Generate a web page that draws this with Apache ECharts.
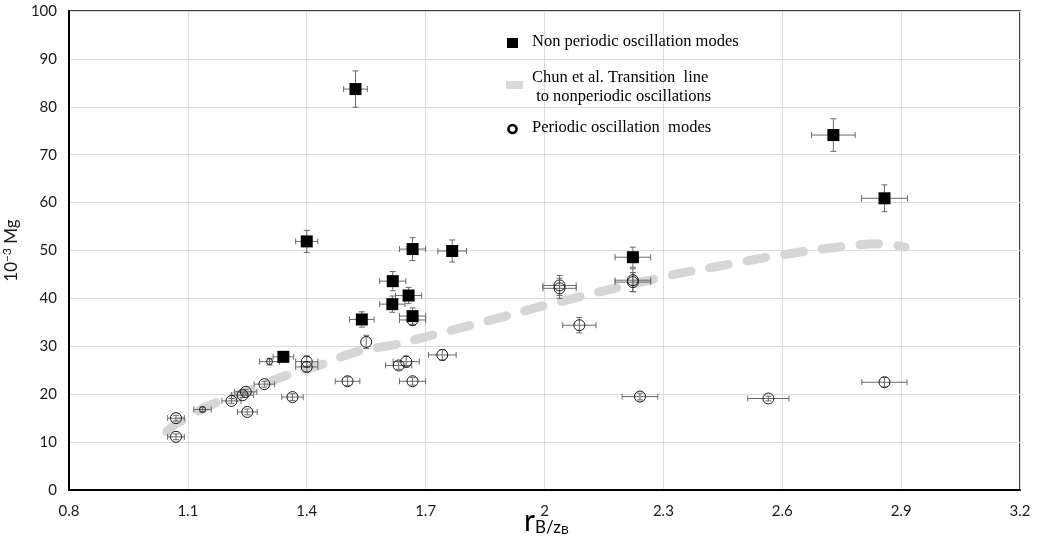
<!DOCTYPE html>
<html>
<head>
<meta charset="utf-8">
<script src="https://cdn.jsdelivr.net/npm/echarts@6/dist/echarts.min.js"></script>
<style>
  html, body { margin: 0; padding: 0; background: #fff; }
  #chart { width: 1037px; height: 542px; }
</style>
</head>
<body>
<div id="chart"></div>
<script>
// non periodic oscillation modes (filled squares)
const npX    = [1.523, 1.400, 1.667, 1.767, 1.617, 1.657, 1.616, 1.667, 1.539, 1.341, 2.223, 2.729, 2.858]
const npY    = [83.7, 51.9, 50.3, 49.9, 43.6, 40.6, 38.8, 36.3, 35.6, 27.8, 48.6, 74.1, 60.9]
const npXErr = [0.030, 0.028, 0.033, 0.036, 0.033, 0.033, 0.032, 0.033, 0.031, 0.026, 0.045, 0.055, 0.058]
const npYErr = [3.8, 2.3, 2.4, 2.3, 2.0, 1.7, 1.7, 1.7, 1.6, 1.0, 2.1, 3.4, 2.8]

// periodic oscillation modes (open circles)
const pX    = [1.070, 1.070, 1.137, 1.210, 1.238, 1.246, 1.250, 1.293, 1.306, 1.400, 1.400, 1.364, 1.503, 1.550,
               1.632, 1.651, 1.667, 1.667, 1.742, 2.038, 2.038, 2.088, 2.223, 2.223, 2.241, 2.565, 2.858]
const pY    = [15.0, 11.1, 16.8, 18.6, 19.8, 20.5, 16.3, 22.1, 26.8, 26.8, 25.7, 19.4, 22.7, 30.9,
               26.0, 26.8, 22.7, 35.5, 28.2, 42.7, 42.1, 34.4, 43.8, 43.4, 19.5, 19.1, 22.5]
const pXErr = [0.021, 0.021, 0.022, 0.024, 0.028, 0.028, 0.025, 0.026, 0.025, 0.028, 0.028, 0.027, 0.031, 0,
               0.033, 0.033, 0.033, 0.033, 0.035, 0.042, 0.042, 0.042, 0.045, 0.045, 0.045, 0.052, 0.057]
const pYErr = [0.6, 0.6, 0.5, 0.5, 0.5, 0.5, 0.6, 0.6, 0.7, 1.2, 1.0, 0.7, 0.9, 1.4,
               0.8, 1.2, 0.8, 1.2, 1.1, 2.1, 2.1, 1.6, 2.4, 2.0, 0.7, 0.5, 1.0]
// points drawn with a smaller marker
const pSmall = [2, 8]

// Chun et al. transition line
const tX = [1.047, 1.07, 1.089, 1.148, 1.257, 1.341, 1.434, 1.527, 1.619, 1.72, 1.897, 2.0, 2.3, 2.478, 2.6, 2.75, 2.85, 2.91]
const tY = [12.2, 13.8, 14.6, 17.4, 20.9, 23.7, 26.1, 28.9, 30.3, 32.4, 36.2, 38.5, 44.5, 47.3, 49.1, 50.8, 51.4, 50.7]

const xTicks = [0.8, 3.2, 0.3]
const yTicks = [0, 100, 10]

const zip = (...arrs) => arrs[0].map((_, i) => arrs.map(a => a[i]))

const errColor = '#6a6a6a'
function errorBars(params, api) {
  const x = api.value(0), y = api.value(1), ex = api.value(2), ey = api.value(3)
  const cap = 3
  const kids = []
  const st = { stroke: errColor, lineWidth: 1 }
  if (ex > 0) {
    const l = api.coord([x - ex, y]), r = api.coord([x + ex, y])
    kids.push({ type: 'line', shape: { x1: l[0], y1: l[1], x2: r[0], y2: r[1] }, style: st })
    kids.push({ type: 'line', shape: { x1: l[0], y1: l[1] - cap, x2: l[0], y2: l[1] + cap }, style: st })
    kids.push({ type: 'line', shape: { x1: r[0], y1: r[1] - cap, x2: r[0], y2: r[1] + cap }, style: st })
  }
  if (ey > 0) {
    const t = api.coord([x, y + ey]), b = api.coord([x, y - ey])
    kids.push({ type: 'line', shape: { x1: t[0], y1: t[1], x2: b[0], y2: b[1] }, style: st })
    kids.push({ type: 'line', shape: { x1: t[0] - cap, y1: t[1], x2: t[0] + cap, y2: t[1] }, style: st })
    kids.push({ type: 'line', shape: { x1: b[0] - cap, y1: b[1], x2: b[0] + cap, y2: b[1] }, style: st })
  }
  return { type: 'group', children: kids }
}

const chart = echarts.init(document.getElementById('chart'))
const axisFont = { fontFamily: 'Lato', fontSize: 15, color: '#1a1a1a' }
const legendFont = '16.5px "Liberation Serif"'

const option = {
  animation: false,
  backgroundColor: '#fff',
  grid: {
    left: 69, right: 17, top: 11, bottom: 52,
    outerBoundsMode: 'none', containLabel: false,
    show: true, borderColor: '#000', borderWidth: 1.5
  },
  xAxis: {
    type: 'value', min: xTicks[0], max: xTicks[1], interval: xTicks[2],
    axisLine: { show: true, lineStyle: { color: '#000', width: 2 } },
    axisTick: { show: false },
    splitLine: { show: true, lineStyle: { color: '#dcdcdc', width: 1 } },
    axisLabel: { ...axisFont, margin: 14 }
  },
  yAxis: {
    type: 'value', min: yTicks[0], max: yTicks[1], interval: yTicks[2],
    axisLine: { show: true, lineStyle: { color: '#000', width: 2 } },
    axisTick: { show: false },
    splitLine: { show: true, lineStyle: { color: '#dcdcdc', width: 1 } },
    axisLabel: { ...axisFont, margin: 12 },
    name: '{n|10}{sup|−3}{n| Mg}',
    nameLocation: 'middle', nameGap: 44, nameRotate: 90,
    nameTextStyle: {
      rich: {
        n: { fontFamily: 'Lato', fontSize: 17, color: '#1a1a1a' },
        sup: { fontFamily: 'Lato', fontSize: 12, color: '#1a1a1a', verticalAlign: 'top', padding: [0, 0, 8, 0] }
      }
    }
  },
  graphic: [
    // x axis title r_B / z_B
    {
      type: 'text', left: 524, top: 506, z: 100,
      style: {
        text: '{r|r}{s|B/z}{b|B}',
        rich: {
          r: { fontFamily: 'Lato', fontSize: 30, fill: '#000', lineHeight: 30, verticalAlign: 'bottom' },
          s: { fontFamily: 'Lato', fontSize: 17, fill: '#000', lineHeight: 17, verticalAlign: 'bottom' },
          b: { fontFamily: 'Lato', fontSize: 12, fill: '#000', lineHeight: 12, verticalAlign: 'bottom' }
        }
      }
    },
    { type: 'rect', shape: { x: 507, y: 38, width: 11, height: 10 }, style: { fill: '#000' }, z: 100 },
    { type: 'text', left: 532, top: 33, style: { text: 'Non periodic oscillation modes', font: legendFont, fill: '#000' }, z: 100 },
    { type: 'rect', shape: { x: 506, y: 81, width: 17, height: 8 }, style: { fill: '#d9d9d9' }, z: 100 },
    { type: 'text', left: 532, top: 68, style: { text: 'Chun et al. Transition  line\n to nonperiodic oscillations', font: legendFont, lineHeight: 19, fill: '#000' }, z: 100 },
    { type: 'circle', shape: { cx: 512.5, cy: 129, r: 4 }, style: { fill: '#fff', stroke: '#000', lineWidth: 2.6 }, z: 100 },
    { type: 'text', left: 532, top: 119, style: { text: 'Periodic oscillation  modes', font: legendFont, fill: '#000' }, z: 100 }
  ],
  series: [
    {
      name: 'transition',
      type: 'line',
      data: zip(tX, tY),
      smooth: 0.4,
      showSymbol: false,
      lineStyle: { color: '#d6d6d6', width: 9, type: [19, 19], cap: 'round' },
      z: 1
    },
    {
      name: 'periodic err',
      type: 'custom',
      data: zip(pX, pY, pXErr, pYErr),
      renderItem: errorBars,
      z: 2
    },
    {
      name: 'nonperiodic err',
      type: 'custom',
      data: zip(npX, npY, npXErr, npYErr),
      renderItem: errorBars,
      z: 2
    },
    {
      name: 'Periodic oscillation  modes',
      type: 'scatter',
      data: zip(pX, pY),
      symbol: 'circle',
      symbolSize: (v, p) => (pSmall.includes(p.dataIndex) ? 6 : 11),
      itemStyle: { color: 'rgba(255,255,255,0)', borderColor: '#1a1a1a', borderWidth: 1, opacity: 1 },
      z: 3
    },
    {
      name: 'Non periodic oscillation modes',
      type: 'scatter',
      data: zip(npX, npY),
      symbol: 'rect',
      symbolSize: 12,
      itemStyle: { color: '#000', opacity: 1 },
      z: 4
    }
  ]
}
chart.setOption(option)
</script>
</body>
</html>
